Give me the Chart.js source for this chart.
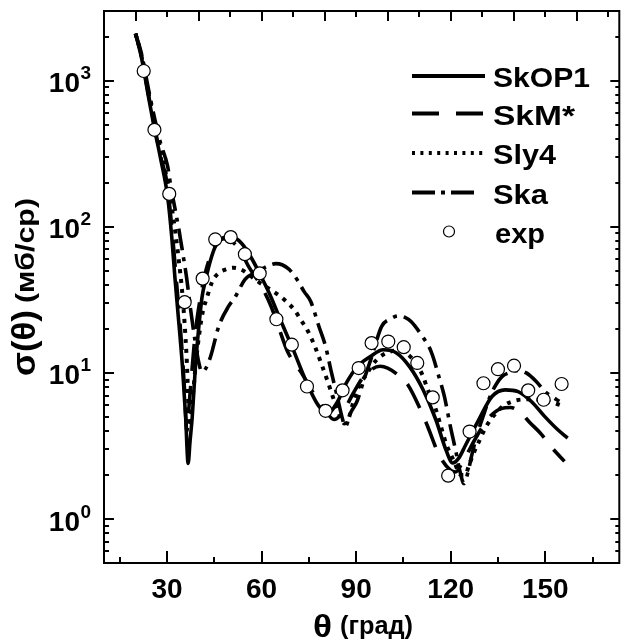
<!DOCTYPE html>
<html><head><meta charset="utf-8">
<script src="https://cdn.jsdelivr.net/npm/chart.js@4"></script>
<style>html,body{margin:0;padding:0;background:#fff}</style>
</head><body>
<canvas id="c" width="627" height="642" style="width:627px;height:642px;display:block"></canvas>
<script>
const FONT = "'Liberation Sans', Arial, Helvetica, sans-serif";
const seriesNames = ['SkOP1', 'SkM*', 'Sly4', 'Ska', 'exp'];
const xTickValues = [30, 60, 90, 120, 150];
const yDecades = [1, 10, 100, 1000];
const yDecadeExp = ['0', '1', '2', '3'];
const xTitleMain = 'θ', xTitleUnit = '(град)';
const yTitleMain = 'σ(θ)', yTitleUnit = '(мб/ср)';

const skop1Deg = [20, 22, 24, 26, 28, 30.2, 31.5, 32.5, 33.2, 34.1, 34.9, 35.9, 36.7, 37.3, 38, 39, 40.1, 41.1, 42.2, 43.8, 45.3, 47.4, 50, 53.7, 57, 60, 63, 66, 70, 74.4, 78, 81, 84, 87, 90.3, 94.4, 98.6, 102.8, 107, 111.2, 115.3, 118.5, 120.6, 122.5, 124.7, 128.9, 133.1, 137.3, 141.4, 145.6, 149.8, 154, 157.1];
const skop1Val = [2100, 1400, 800, 470, 290, 160, 85, 45, 30, 18, 11, 5, 2.4, 3.4, 5, 11, 20.8, 33, 43, 59, 73, 83, 86, 77, 60, 45, 33, 23, 14.5, 8.5, 6.0, 5.3, 6.3, 8.6, 11, 12.9, 14.4, 13.7, 11, 7.7, 4.78, 2.97, 2.42, 2.6, 3.2, 4.77, 6.9, 7.66, 7.45, 6.37, 5.04, 4.08, 3.58];

const skmDeg = [20, 22, 24, 26, 28, 30, 31.5, 33, 34.5, 35.5, 36.3, 37, 38, 39, 40.5, 42, 44, 46, 48, 50, 53, 56, 60, 63, 65.7, 68.3, 72.4, 75.2, 77.7, 80, 83, 86, 89, 92, 95, 97.6, 100, 103, 106.4, 110.6, 112.7, 116.3, 120, 121.5, 124, 128, 132, 136, 139, 142, 145, 148.8, 152, 156.1];
const skmVal = [2100, 1450, 830, 490, 300, 200, 100, 42, 17, 8, 4, 6, 11, 19, 32, 47, 65, 78, 83, 81, 70, 53, 39, 28.6, 19.7, 13.9, 10.2, 8.1, 6.5, 5.6, 4.8, 5.5, 7.2, 9.2, 10.6, 11.1, 10.8, 9.8, 8.3, 5.5, 4.3, 2.75, 2.15, 2.1, 2.5, 3.6, 4.9, 5.7, 5.8, 5.4, 4.6, 3.8, 3.1, 2.48];

const sly4Deg = [20, 22, 24, 26, 28, 30, 32, 33.5, 35, 36.2, 37.2, 38.2, 39.2, 40.3, 41.3, 42.7, 44.3, 46, 48.5, 51, 53.5, 56, 59, 63, 67, 70.4, 72.5, 74.6, 77, 79, 81, 83, 85, 86.3, 87.5, 89, 90.8, 92.9, 96.5, 100, 103, 106, 109, 111.2, 112.7, 115.3, 116.9, 118.5, 121, 123.3, 124.5, 126, 127.5, 129, 131, 134, 137, 141, 145, 149, 152, 155];
const sly4Val = [2100, 1450, 850, 520, 330, 210, 115, 65, 32, 13, 4.3, 7, 12, 19, 26, 33, 42, 47.5, 51, 52.5, 51, 47, 42, 37, 32, 27, 23, 19.5, 15, 11.5, 8.7, 6.5, 5, 4.5, 4.8, 6.2, 8, 9.5, 12.3, 13.8, 14.2, 13.6, 11.6, 9.5, 7.7, 5.6, 4.3, 3.3, 2.5, 2.0, 2.0, 2.4, 2.9, 3.4, 4.2, 5.2, 6.0, 6.5, 6.6, 6.5, 6.3, 6.0];

const skaDeg = [20, 22, 24, 26, 28, 30.2, 31.2, 32.8, 33.8, 34.4, 35.2, 36.2, 37.5, 39, 40, 41, 42, 43.8, 46.4, 49.5, 51.6, 54.7, 58.9, 62, 64.5, 66.5, 68.8, 71.4, 73.5, 75.6, 78.2, 80.3, 82.2, 84, 85.5, 86.6, 88.2, 90.3, 92.5, 95, 98.1, 101, 103.5, 105.5, 107.5, 110.6, 113.8, 116.4, 118, 120, 121.5, 123, 124.2, 125.5, 126.8, 128.4, 130.5, 132.6, 134.5, 136.2, 139, 141.5, 144, 147, 149.8, 152, 154.5];
const skaVal = [2100, 1500, 900, 560, 370, 259, 189, 124, 95, 79, 62, 45, 27, 16, 12, 10.2, 10.5, 12.9, 20.8, 28.5, 33, 43.5, 49.5, 54, 56, 55, 51, 43, 36, 30.8, 20.8, 15.2, 10, 6.9, 5, 4.3, 5.3, 6.4, 9, 13, 20.8, 23.5, 24.6, 24, 22.4, 18.3, 14, 9.2, 6.9, 4.2, 3, 2.1, 1.75, 2.1, 2.8, 3.8, 5.2, 7.0, 8.4, 9.4, 10.1, 10.4, 10.0, 8.8, 7.5, 6.9, 6.4];

const expDeg = [22.6, 26.0, 30.7, 35.6, 41.3, 45.3, 50.2, 54.7, 59.4, 64.7, 69.6, 74.4, 80.3, 85.7, 90.8, 94.9, 100.2, 105.1, 109.4, 114.3, 119.2, 126.0, 130.4, 135.0, 140.1, 144.6, 149.5, 155.2];
const expVal = [1165, 461, 168, 30.5, 44.2, 82, 85, 65, 48, 23.3, 15.6, 8.07, 5.5, 7.6, 10.8, 16.0, 16.4, 15.0, 11.7, 6.8, 1.98, 3.97, 8.5, 10.6, 11.2, 7.6, 6.55, 8.4];

const pts = (xs, ys) => xs.map((x, i) => ({x: x, y: ys[i]}));
const lineStyle = [
  {dash: [], width: 3.6},
  {dash: [27, 15], width: 3.6},
  {dash: [4, 6], width: 4},
  {dash: [22, 7, 4, 7], width: 3.6}
];
const curveData = [pts(skop1Deg, skop1Val), pts(skmDeg, skmVal), pts(sly4Deg, sly4Val), pts(skaDeg, skaVal)];

const datasets = curveData.map((d, i) => ({
  label: seriesNames[i], data: d, showLine: true, pointRadius: 0,
  borderColor: '#000', borderWidth: lineStyle[i].width, borderDash: lineStyle[i].dash,
  borderCapStyle: 'butt', cubicInterpolationMode: 'monotone', fill: false, order: i + 1
}));
datasets.push({
  label: seriesNames[4], data: pts(expDeg, expVal), showLine: false,
  pointRadius: 6.5, pointStyle: 'circle', backgroundColor: '#fff', borderColor: '#000', pointBorderWidth: 1.2, order: 0
});

function fitText(ctx, text, x, y, font, len) {
  ctx.save();
  ctx.font = font;
  const w = ctx.measureText(text).width;
  ctx.translate(x, y);
  ctx.scale(len / w, 1);
  ctx.fillText(text, 0, 0);
  ctx.restore();
}

const decor = {
  id: 'decor',
  afterDraw(chart) {
    const ctx = chart.ctx, a = chart.chartArea, xs = chart.scales.x, ys = chart.scales.y;
    ctx.save();
    ctx.strokeStyle = '#000'; ctx.fillStyle = '#000'; ctx.setLineDash([]);
    ctx.lineWidth = 2;
    ctx.strokeRect(a.left, a.top, a.right - a.left, a.bottom - a.top);
    const seg = (x1, y1, x2, y2) => { ctx.beginPath(); ctx.moveTo(x1, y1); ctx.lineTo(x2, y2); ctx.stroke(); };
    for (let v = 15; v < 174; v += 15) {
      const px = Math.round(xs.getPixelForValue(v));
      seg(px, a.bottom, px, a.bottom - (v % 30 === 0 ? 12 : 6));
    }
    for (let v = 20; v < 174; v += 10) {
      const px = Math.round(xs.getPixelForValue(v));
      seg(px, a.top, px, a.top + (v % 20 === 0 ? 10 : 6));
    }
    for (let d = 0.1; d < 10000; d *= 10) {
      for (let m = 1; m <= 9; m++) {
        const v = d * m;
        if (v < 0.5 || v >= 3000) continue;
        const py = Math.round(ys.getPixelForValue(v));
        const major = m === 1;
        seg(a.left, py, a.left + (major ? 10 : 5), py);
        seg(a.right, py, a.right - (major ? 9 : 4), py);
      }
    }
    yDecades.forEach((v, i) => {
      const py = ys.getPixelForValue(v);
      ctx.font = 'bold 28px ' + FONT; ctx.textAlign = 'right'; ctx.textBaseline = 'alphabetic';
      ctx.fillText('10', 80, py + 11.5);
      ctx.font = 'bold 19px ' + FONT; ctx.textAlign = 'left';
      ctx.fillText(yDecadeExp[i], 80.5, py - 1.5);
    });
    ctx.textAlign = 'left'; ctx.textBaseline = 'alphabetic';
    fitText(ctx, xTitleMain, 313, 637, 'bold 31px ' + FONT, 19);
    fitText(ctx, xTitleUnit, 340, 634, 'bold 25px ' + FONT, 73);
    ctx.save();
    ctx.translate(35, 376);
    ctx.rotate(-Math.PI / 2);
    fitText(ctx, yTitleMain, 0, 0, 'bold 33px ' + FONT, 66);
    fitText(ctx, yTitleUnit, 73, -1, 'bold 26px ' + FONT, 105);
    ctx.restore();
    const rows = [76, 113.5, 153, 192.5, 231.5];
    for (let i = 0; i < 4; i++) {
      ctx.lineWidth = 3.8; ctx.lineCap = 'butt';
      ctx.setLineDash(i === 1 ? [27, 17] : i === 2 ? [3, 5.4] : i === 3 ? [23, 6, 4, 6] : []);
      seg(412, rows[i], i === 3 ? 475 : 485, rows[i]);
    }
    ctx.setLineDash([]);
    ctx.lineWidth = 1.2; ctx.fillStyle = '#fff';
    ctx.beginPath(); ctx.arc(449, rows[4], 5.5, 0, Math.PI * 2); ctx.fill(); ctx.stroke();
    ctx.fillStyle = '#000';
    const legW = [97, 82, 63, 55, 50];
    seriesNames.forEach((n, i) => {
      fitText(ctx, n, i === 4 ? 495 : 493, rows[i] + 11, 'bold 28px ' + FONT, legW[i]);
    });
    ctx.restore();
  }
};

new Chart(document.getElementById('c'), {
  type: 'scatter',
  data: {datasets: datasets},
  options: {
    responsive: false, animation: false, devicePixelRatio: 1,
    layout: {padding: {top: 11, right: 1, left: 0, bottom: 0}},
    plugins: {legend: {display: false}, tooltip: {enabled: false}, title: {display: false}},
    scales: {
      x: {
        type: 'linear', position: 'bottom', min: 10, max: 173.5,
        grid: {display: false, drawTicks: false}, border: {display: false},
        afterBuildTicks: s => { s.ticks = xTickValues.map(v => ({value: v})); },
        afterFit: s => { s.height = 79; },
        ticks: {font: {family: FONT, size: 28, weight: 'bold'}, color: '#000', padding: 10, maxRotation: 0, autoSkip: false}
      },
      y: {
        type: 'logarithmic', position: 'left', min: 0.5, max: 3000,
        grid: {display: false, drawTicks: false}, border: {display: false},
        ticks: {display: false},
        afterFit: s => { s.width = 104; }
      }
    }
  },
  plugins: [decor]
});
</script>
</body></html>
